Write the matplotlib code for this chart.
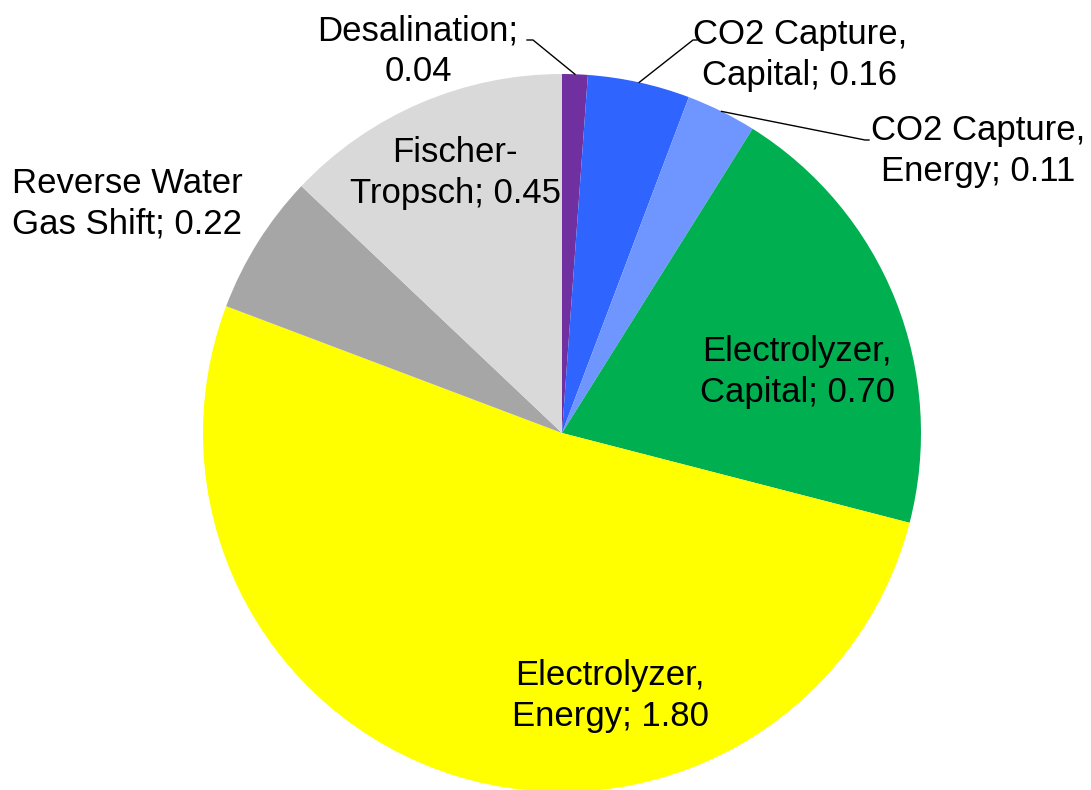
import numpy as np
import matplotlib
matplotlib.use("Agg")
import matplotlib.pyplot as plt

# cost breakdown, clockwise from 12 o'clock
categories = [
    "Desalination;\n0.04",
    "CO2 Capture,\nCapital; 0.16",
    "CO2 Capture,\nEnergy; 0.11",
    "Electrolyzer,\nCapital; 0.70",
    "Electrolyzer,\nEnergy; 1.80",
    "Reverse Water\nGas Shift; 0.22",
    "Fischer-\nTropsch; 0.45",
]
values = [0.04, 0.16, 0.11, 0.70, 1.80, 0.22, 0.45]
colors = ["#7030A0", "#2F64FF", "#6F96FF", "#00B050", "#FFFF00", "#A6A6A6", "#D9D9D9"]

W, H = 1091, 790
CX, CY, R = 562, H - 433, 359

plt.rcParams["font.family"] = ["Liberation Sans", "DejaVu Sans"]
FS = 25

fig = plt.figure(figsize=(W / 100, H / 100), dpi=100)
ax = fig.add_axes([0, 0, 1, 1])

wedges, _ = ax.pie(values, colors=colors, startangle=90, counterclock=False,
                   center=(CX, CY), radius=R, frame=True,
                   wedgeprops=dict(linewidth=0))
ax.set_xlim(0, W)
ax.set_ylim(0, H)
ax.set_aspect("equal")
ax.axis("off")

# label placement (pixel coords from top-left), alignment, and leader line elbow
labels = {
    0: dict(xy=(418, 51), ha="center", leader=[(533, 40), (527, 40)]),
    1: dict(xy=(800, 55), ha="center", leader=[(693, 40), (697, 40)]),
    2: dict(xy=(978, 151), ha="center", leader=[(865, 140), (869, 140)]),
    3: dict(xy=(797, 372), ha="center", leader=None),
    4: dict(xy=(610, 696), ha="center", leader=None),
    5: dict(xy=(12, 204), ha="left", leader=None),
    6: dict(xy=(455, 173), ha="center", leader=None),
}

for i, w in enumerate(wedges):
    spec = labels[i]
    x, y = spec["xy"]
    ax.text(x, H - y, categories[i], ha=spec["ha"], va="center",
            fontsize=FS, linespacing=1.3, multialignment="center")
    if spec["leader"]:
        mid = np.deg2rad((w.theta1 + w.theta2) / 2)
        ex, ey = CX + R * np.cos(mid), CY + R * np.sin(mid)
        pts = [(ex, ey)] + [(px, H - py) for px, py in spec["leader"]]
        xs, ys = zip(*pts)
        ax.plot(xs, ys, color="black", linewidth=1)

fig.savefig("out.png", dpi=100)
